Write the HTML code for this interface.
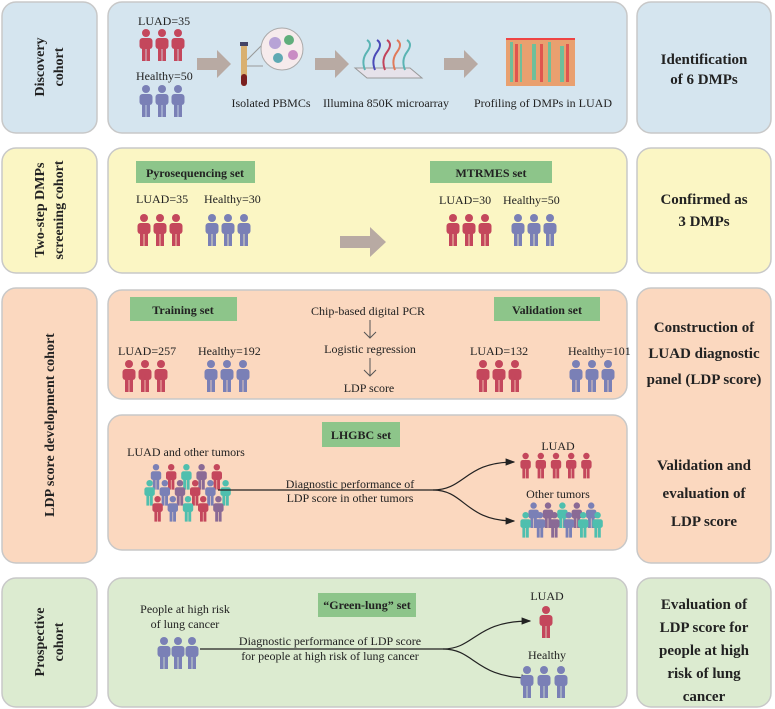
<!DOCTYPE html>
<html><head><meta charset="utf-8"><style>
html,body{margin:0;padding:0;background:#fff}
svg{display:block}
text{font-family:"Liberation Serif",serif;fill:#222}
.b{font-weight:bold}
</style></head><body>
<svg width="775" height="709" viewBox="0 0 775 709" xmlns="http://www.w3.org/2000/svg">
<defs>
<g id="p"><circle cx="7" cy="4" r="4"/><rect x="0.5" y="9" width="13" height="11" rx="3"/><rect x="3" y="14" width="3.6" height="18"/><rect x="7.4" y="14" width="3.6" height="18"/></g>
<marker id="ar" markerWidth="8" markerHeight="8" refX="7" refY="4" orient="auto"><path d="M0,1 L8,4 L0,7 Z" fill="#222"/></marker>
</defs>
<g stroke="#c8c8c8" stroke-width="1.5">
<rect x="2" y="2" width="95" height="131" rx="14" fill="#d5e5ef"/>
<rect x="108" y="2" width="519" height="131" rx="14" fill="#d5e5ef"/>
<rect x="637" y="2" width="134" height="131" rx="14" fill="#d5e5ef"/>
<rect x="2" y="148" width="95" height="125" rx="14" fill="#fbf6c4"/>
<rect x="108" y="148" width="519" height="125" rx="14" fill="#fbf6c4"/>
<rect x="637" y="148" width="134" height="125" rx="14" fill="#fbf6c4"/>
<rect x="2" y="288" width="95" height="275" rx="14" fill="#fbd8bf"/>
<rect x="108" y="290" width="519" height="109" rx="14" fill="#fbd8bf"/>
<rect x="108" y="415" width="519" height="135" rx="14" fill="#fbd8bf"/>
<rect x="637" y="288" width="134" height="275" rx="14" fill="#fbd8bf"/>
<rect x="2" y="578" width="95" height="129" rx="14" fill="#dcebd0"/>
<rect x="108" y="578" width="519" height="129" rx="14" fill="#dcebd0"/>
<rect x="637" y="578" width="134" height="129" rx="14" fill="#dcebd0"/>
</g>
<!-- left labels -->
<g class="b" font-size="14" text-anchor="middle">
<text class="b" transform="translate(44,67) rotate(-90)">Discovery</text>
<text class="b" transform="translate(63,67) rotate(-90)">cohort</text>
<text class="b" transform="translate(44,210) rotate(-90)">Two-step DMPs</text>
<text class="b" transform="translate(63,210) rotate(-90)">screening cohort</text>
<text class="b" transform="translate(54,425) rotate(-90)">LDP score development cohort</text>
<text class="b" transform="translate(44,642) rotate(-90)">Prospective</text>
<text class="b" transform="translate(63,642) rotate(-90)">cohort</text>
</g>
<!-- right labels -->
<g font-size="15" text-anchor="middle">
<text class="b" x="704" y="64">Identification</text><text class="b" x="704" y="84">of 6 DMPs</text>
<text class="b" x="704" y="204">Confirmed as</text><text class="b" x="704" y="226">3 DMPs</text>
<text class="b" x="704" y="332">Construction of</text><text class="b" x="704" y="358">LUAD diagnostic</text><text class="b" x="704" y="384">panel (LDP score)</text>
<text class="b" x="704" y="470">Validation and</text><text class="b" x="704" y="498">evaluation of</text><text class="b" x="704" y="526">LDP score</text>
<text class="b" x="704" y="609">Evaluation of</text><text class="b" x="704" y="632">LDP score for</text><text class="b" x="704" y="655">people at high</text><text class="b" x="704" y="678">risk of lung</text><text class="b" x="704" y="701">cancer</text>
</g>
<!-- row1 -->
<g font-size="12">
<text x="138" y="25">LUAD=35</text><text x="136" y="80">Healthy=50</text>
</g>
<g fill="#c4475c"><use href="#p" x="139" y="29"/><use href="#p" x="155" y="29"/><use href="#p" x="171" y="29"/></g>
<g fill="#7a80b6"><use href="#p" x="139" y="85"/><use href="#p" x="155" y="85"/><use href="#p" x="171" y="85"/></g>
<g fill="#b8aaa3">
<path d="M197,58 h20 v-8 l14,14 l-14,14 v-8 h-20z"/>
<path d="M315,58 h20 v-8 l14,14 l-14,14 v-8 h-20z"/>
<path d="M444,58 h20 v-8 l14,14 l-14,14 v-8 h-20z"/>
<path d="M340,236 h30 v-9 l16,15 l-16,15 v-9 h-30z"/>
</g>
<rect x="241" y="44" width="6" height="42" rx="3" fill="#d9b070"/><rect x="241" y="74" width="6" height="12" rx="3" fill="#7a1f1f"/><rect x="240" y="42" width="8" height="4" fill="#446"/>
<line x1="247" y1="60" x2="263" y2="44" stroke="#999"/><line x1="247" y1="66" x2="263" y2="66" stroke="#999"/>
<circle cx="282" cy="49" r="21" fill="#f6ebec" stroke="#aaa"/>
<circle cx="275" cy="43" r="6" fill="#b7a3d6"/><circle cx="289" cy="40" r="5" fill="#5fae7b"/><circle cx="293" cy="55" r="5" fill="#c98cc4"/><circle cx="278" cy="58" r="5" fill="#5fa9b3"/>
<path d="M355,68 L410,68 L422,78 L367,78Z" fill="#e6e2ea" stroke="#999"/>
<g fill="none" stroke-width="2"><path d="M365,70 q-4,-10 2,-18 t0,-12" stroke="#5ab4b4"/><path d="M375,70 q-4,-10 2,-18 t0,-12" stroke="#4a4ab8"/><path d="M385,70 q-4,-10 2,-18 t0,-12" stroke="#c2445b"/><path d="M395,70 q-4,-10 2,-18 t0,-12" stroke="#e07a5a"/><path d="M405,70 q-4,-10 2,-18 t0,-12" stroke="#5ab4b4"/></g>
<rect x="506" y="38" width="69" height="48" fill="#e9a06f"/>
<g fill="#6fbf9a"><rect x="510" y="42" width="3" height="40"/><rect x="520" y="44" width="2" height="38"/><rect x="532" y="44" width="4" height="36"/><rect x="548" y="42" width="3" height="40"/><rect x="560" y="46" width="4" height="36"/></g>
<g fill="#e0554f"><rect x="515" y="44" width="3" height="38"/><rect x="540" y="44" width="3" height="38"/><rect x="566" y="44" width="3" height="38"/></g>
<rect x="506" y="38" width="69" height="2" fill="#e44"/>
<g font-size="12" text-anchor="middle"><text x="271" y="107">Isolated PBMCs</text><text x="386" y="107">Illumina 850K microarray</text><text x="543" y="107">Profiling of DMPs in LUAD</text></g>
<!-- row2 -->
<g fill="#8dc58a"><rect x="136" y="161" width="119" height="22"/><rect x="430" y="161" width="122" height="22"/>
<rect x="130" y="297" width="107" height="24"/><rect x="494" y="297" width="106" height="24"/><rect x="322" y="422" width="78" height="25"/><rect x="318" y="593" width="98" height="24"/></g>
<g font-size="12" text-anchor="middle">
<text class="b" x="195" y="177">Pyrosequencing set</text><text class="b" x="491" y="177">MTRMES set</text>
<text class="b" x="183" y="314">Training set</text><text class="b" x="547" y="314">Validation set</text>
<text class="b" x="361" y="439">LHGBC set</text><text class="b" x="367" y="609">“Green-lung” set</text>
</g>
<g font-size="12"><text x="136" y="203">LUAD=35</text><text x="204" y="203">Healthy=30</text><text x="439" y="204">LUAD=30</text><text x="503" y="204">Healthy=50</text>
<text x="118" y="355">LUAD=257</text><text x="198" y="355">Healthy=192</text><text x="470" y="355">LUAD=132</text><text x="568" y="355">Healthy=101</text></g>
<g fill="#c4475c"><use href="#p" x="137" y="214"/><use href="#p" x="153" y="214"/><use href="#p" x="169" y="214"/>
<use href="#p" x="446" y="214"/><use href="#p" x="462" y="214"/><use href="#p" x="478" y="214"/>
<use href="#p" x="122" y="360"/><use href="#p" x="138" y="360"/><use href="#p" x="154" y="360"/>
<use href="#p" x="476" y="360"/><use href="#p" x="492" y="360"/><use href="#p" x="508" y="360"/></g>
<g fill="#7a80b6"><use href="#p" x="205" y="214"/><use href="#p" x="221" y="214"/><use href="#p" x="237" y="214"/>
<use href="#p" x="511" y="214"/><use href="#p" x="527" y="214"/><use href="#p" x="543" y="214"/>
<use href="#p" x="204" y="360"/><use href="#p" x="220" y="360"/><use href="#p" x="236" y="360"/>
<use href="#p" x="569" y="360"/><use href="#p" x="585" y="360"/><use href="#p" x="601" y="360"/></g>
<!-- row3 center -->
<g font-size="12" text-anchor="middle"><text x="368" y="315">Chip-based digital PCR</text><text x="370" y="353">Logistic regression</text><text x="369" y="392">LDP score</text></g>
<g stroke="#555" fill="none"><path d="M370,320 v18 M364,332 l6,6 l6,-6"/><path d="M370,358 v18 M364,370 l6,6 l6,-6"/></g>
<!-- row3 lower -->
<g font-size="12" text-anchor="middle"><text x="186" y="456">LUAD and other tumors</text><text x="558" y="450">LUAD</text><text x="558" y="498">Other tumors</text>
<text x="350" y="488">Diagnostic performance of</text><text x="350" y="502">LDP score in other tumors</text></g>
<g transform="scale(0.8)">
<use href="#p" x="188" y="580" fill="#7a80b6"/><use href="#p" x="207" y="580" fill="#c4475c"/><use href="#p" x="226" y="580" fill="#4fbfae"/><use href="#p" x="245" y="580" fill="#8a6a95"/><use href="#p" x="264" y="580" fill="#c4475c"/>
<use href="#p" x="180" y="600" fill="#4fbfae"/><use href="#p" x="199" y="600" fill="#7a80b6"/><use href="#p" x="218" y="600" fill="#8a6a95"/><use href="#p" x="237" y="600" fill="#c4475c"/><use href="#p" x="256" y="600" fill="#7a80b6"/><use href="#p" x="275" y="600" fill="#4fbfae"/>
<use href="#p" x="190" y="620" fill="#c4475c"/><use href="#p" x="209" y="620" fill="#7a80b6"/><use href="#p" x="228" y="620" fill="#4fbfae"/><use href="#p" x="247" y="620" fill="#c4475c"/><use href="#p" x="266" y="620" fill="#8a6a95"/>
<use href="#p" x="650" y="566" fill="#c4475c"/><use href="#p" x="669" y="566" fill="#c4475c"/><use href="#p" x="688" y="566" fill="#c4475c"/><use href="#p" x="707" y="566" fill="#c4475c"/><use href="#p" x="726" y="566" fill="#c4475c"/>
<use href="#p" x="660" y="628" fill="#7a80b6"/><use href="#p" x="678" y="628" fill="#8a6a95"/><use href="#p" x="696" y="628" fill="#4fbfae"/><use href="#p" x="714" y="628" fill="#8a6a95"/><use href="#p" x="732" y="628" fill="#7a80b6"/>
<use href="#p" x="650" y="640" fill="#4fbfae"/><use href="#p" x="668" y="640" fill="#7a80b6"/><use href="#p" x="686" y="640" fill="#8a6a95"/><use href="#p" x="704" y="640" fill="#7a80b6"/><use href="#p" x="722" y="640" fill="#4fbfae"/><use href="#p" x="740" y="640" fill="#4fbfae"/>
</g>
<g stroke="#222" stroke-width="1.2" fill="none">
<path d="M218,490 H433 C465,490 465,462 514,462" marker-end="url(#ar)"/>
<path d="M433,490 C465,490 465,521 514,521" marker-end="url(#ar)"/>
<path d="M200,649 H443 C475,649 475,621 530,621" marker-end="url(#ar)"/>
<path d="M443,649 C475,649 475,678 530,678" marker-end="url(#ar)"/>
</g>
<!-- row4 -->
<g font-size="12" text-anchor="middle"><text x="185" y="613">People at high risk</text><text x="185" y="628">of lung cancer</text>
<text x="330" y="645">Diagnostic performance of LDP score</text><text x="330" y="660">for people at high risk of lung cancer</text>
<text x="547" y="600">LUAD</text><text x="547" y="659">Healthy</text></g>
<g fill="#7a80b6"><use href="#p" x="157" y="637"/><use href="#p" x="171" y="637"/><use href="#p" x="185" y="637"/>
<use href="#p" x="520" y="666"/><use href="#p" x="537" y="666"/><use href="#p" x="554" y="666"/></g>
<use href="#p" x="539" y="606" fill="#c4475c"/>
</svg>
</body></html>
